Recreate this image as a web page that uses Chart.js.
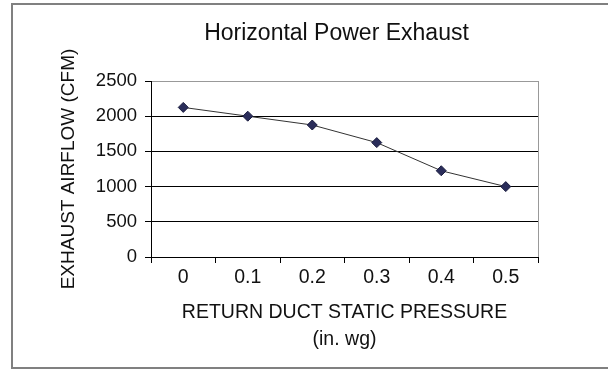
<!DOCTYPE html>
<html>
<head>
<meta charset="utf-8">
<script src="https://cdn.jsdelivr.net/npm/chart.js@4"></script>
<style>
  html, body { margin: 0; padding: 0; background: #fff; }
  #wrap { width: 608px; height: 371px; }
</style>
</head>
<body>
<div id="wrap"><canvas id="exhaust" width="608" height="371"></canvas></div>
<script>
var pressures = ["0", "0.1", "0.2", "0.3", "0.4", "0.5"];
var airflow = [2125, 2000, 1875, 1625, 1225, 1000];
var yTicks = [0, 500, 1000, 1500, 2000, 2500];
var chartTitle = 'Horizontal Power Exhaust';

var fontFamily = "'Liberation Sans', Arial, sans-serif";

// outer frame (right side is cut off in the original), grey plot-area edge on
// the right, and the title (sits a bit left of the plot centre, so drawn here)
var framePlugin = {
  id: 'frame',
  beforeDraw: function(chart) {
    var ctx = chart.ctx, w = chart.width, h = chart.height;
    ctx.save();
    ctx.fillStyle = '#fff';
    ctx.fillRect(0, 0, w, h);
    ctx.strokeStyle = '#808080';
    ctx.lineWidth = 2;
    ctx.beginPath();
    ctx.moveTo(w, 4);
    ctx.lineTo(12, 4);
    ctx.lineTo(12, h - 3);
    ctx.lineTo(w, h - 3);
    ctx.stroke();
    ctx.restore();
  },
  beforeDatasetsDraw: function(chart) {
    var a = chart.chartArea, ctx = chart.ctx;
    ctx.save();
    ctx.strokeStyle = '#999';
    ctx.lineWidth = 1;
    ctx.beginPath();
    ctx.moveTo(a.right + 0.5, a.top);
    ctx.lineTo(a.right + 0.5, a.bottom);
    ctx.stroke();
    ctx.restore();
  },
  afterDraw: function(chart) {
    var a = chart.chartArea, ctx = chart.ctx;
    ctx.save();
    ctx.fillStyle = '#111';
    ctx.font = "23px " + fontFamily;
    ctx.textAlign = 'center';
    ctx.textBaseline = 'middle';
    ctx.fillText(chartTitle, (a.left + a.right) / 2 - 8, 34);
    ctx.restore();
  }
};

var ctx = document.getElementById("exhaust");

var lineChart = new Chart(ctx, {
  type: 'line',
  data: {
    labels: pressures,
    datasets: [{
      data: airflow,
      borderColor: '#333',
      borderWidth: 1,
      pointStyle: 'rectRot',
      pointRadius: 5,
      pointHoverRadius: 5,
      pointBackgroundColor: '#2a2d5a',
      pointBorderColor: '#1c1e40',
      pointBorderWidth: 1,
      tension: 0
    }]
  },
  options: {
    responsive: false,
    animation: false,
    events: [],
    layout: { padding: { left: 11, right: 70, top: 81, bottom: 3 } },
    plugins: {
      legend: { display: false },
      tooltip: { enabled: false },
      title: { display: false }
    },
    scales: {
      x: {
        type: 'category',
        offset: true,
        afterFit: function(scale) { scale.height = 111; },
        grid: {
          offset: true,
          drawOnChartArea: false,
          drawTicks: true,
          tickLength: 6,
          tickColor: '#000'
        },
        border: { color: '#000', width: 1 },
        ticks: {
          color: '#111',
          padding: 3,
          maxRotation: 0,
          font: { family: fontFamily, size: 19.5 }
        },
        title: {
          display: true,
          text: ['RETURN DUCT STATIC PRESSURE', '(in. wg)'],
          color: '#111',
          font: { family: fontFamily, size: 19.5, lineHeight: 1.385 },
          padding: { top: 0, bottom: 15 }
        }
      },
      y: {
        min: 0,
        max: 2500,
        afterFit: function(scale) { scale.width = 140; },
        afterBuildTicks: function(scale) {
          scale.ticks = yTicks.map(function(v) { return { value: v }; });
        },
        grid: {
          color: function(c) { return c.tick && c.tick.value === 2500 ? '#999' : '#000'; },
          lineWidth: 1,
          drawTicks: true,
          tickLength: 6,
          tickColor: '#000'
        },
        border: { color: '#000', width: 1 },
        ticks: {
          color: '#111',
          padding: 8,
          font: { family: fontFamily, size: 18.5 },
          callback: function(v) { return String(v); }
        },
        title: {
          display: true,
          text: 'EXHAUST AIRFLOW (CFM)',
          color: '#111',
          font: { family: fontFamily, size: 19, lineHeight: 1.2 },
          padding: { top: 46, bottom: 0 }
        }
      }
    }
  },
  plugins: [framePlugin]
});
</script>
</body>
</html>
